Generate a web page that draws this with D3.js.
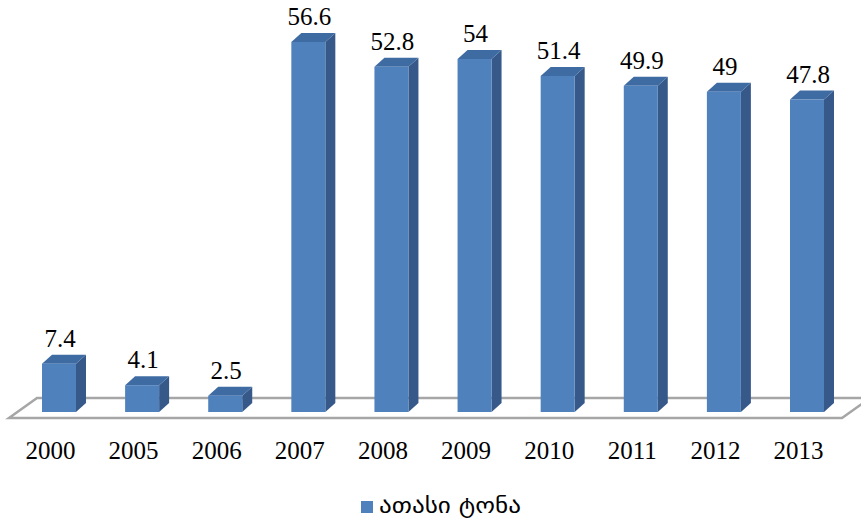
<!DOCTYPE html>
<html><head><meta charset="utf-8">
<script src="https://cdn.jsdelivr.net/npm/d3@7"></script>
<style>body{margin:0;background:#fff}svg{display:block}</style>
</head><body>
<svg id="c" width="861" height="523"></svg>
<script>
const categories = ["2000","2005","2006","2007","2008","2009","2010","2011","2012","2013"];
const values = [7.4, 4.1, 2.5, 56.6, 52.8, 54, 51.4, 49.9, 49, 47.8];
const valueLabels = ["7.4","4.1","2.5","56.6","52.8","54","51.4","49.9","49","47.8"];
const seriesName = "ათასი ტონა";

const serif = "'Liberation Serif', 'Times New Roman', Times, 'DejaVu Serif', serif";
const svg = d3.select("#c");
const x = d3.scalePoint().domain(categories).range([59, 807]);
const y = d3.scaleLinear().domain([0, 56.6]).range([412, 42]);
const bw = 34, dx = 10, dy = 9;

// floor
const fl = [[37,398],[870,398],[842,418],[9,418]];
svg.append("path").attr("d", d3.line()(fl) + "Z")
  .attr("fill","none").attr("stroke","#a6a6a6").attr("stroke-width",2.5);

const g = svg.append("g");
categories.forEach((c,i)=>{
  const x0 = x(c) - bw/2, x1 = x(c) + bw/2;
  const yt = y(values[i]), yb = y(0);
  g.append("path").attr("d", d3.line()([[x1,yt],[x1+dx,yt-dy],[x1+dx,yb-dy],[x1,yb]])+"Z")
    .attr("fill","#36598a");
  g.append("path").attr("d", d3.line()([[x0,yt],[x0+dx,yt-dy],[x1+dx,yt-dy],[x1,yt]])+"Z")
    .attr("fill","#3f6ba3");
  g.append("rect").attr("x",x0).attr("y",yt).attr("width",bw).attr("height",yb-yt)
    .attr("fill","#4f81bd");
  g.append("text").attr("x", x(c)+1).attr("y", yt-dy-8)
    .attr("text-anchor","middle").attr("font-family",serif)
    .attr("font-size",25).attr("fill","#000").text(valueLabels[i]);
  g.append("text").attr("x", x(c)-8.5).attr("y", 459)
    .attr("text-anchor","middle").attr("font-family",serif)
    .attr("font-size",25).attr("fill","#000").text(c);
});

// legend
svg.append("rect").attr("x",361).attr("y",501).attr("width",12).attr("height",12).attr("fill","#4f81bd");
svg.append("text").attr("x",379).attr("y",513).attr("font-family","'DejaVu Sans', sans-serif")
  .attr("font-size",22).attr("textLength",142).attr("lengthAdjust","spacingAndGlyphs")
  .attr("fill","#000").text(seriesName);
</script>
</body></html>
